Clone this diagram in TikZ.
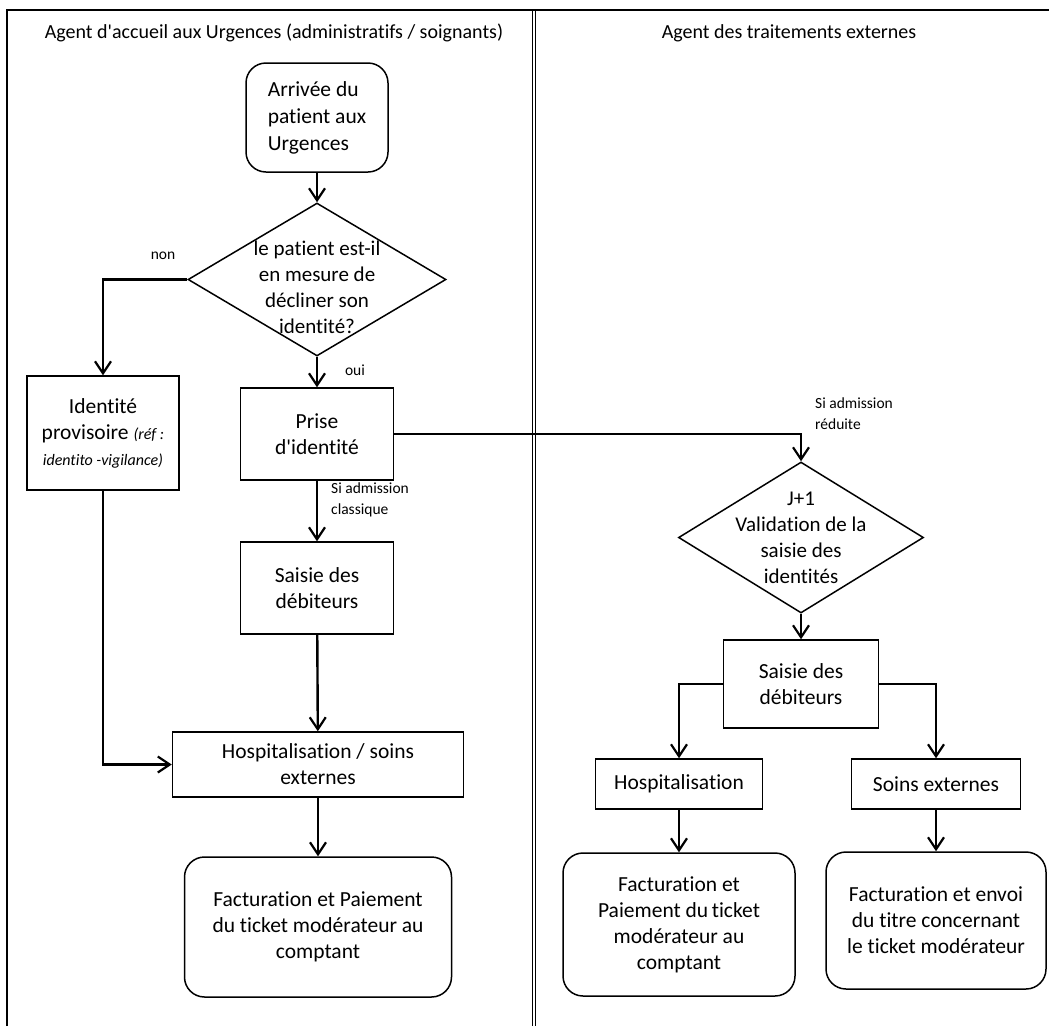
\documentclass[tikz,border=0pt]{standalone}
\usepackage{fontspec}
\setmainfont{Carlito}[Ligatures={NoCommon}]
\usepackage{tikz}
\usetikzlibrary{positioning,shapes.geometric,arrows.meta}

\begin{document}
\begin{tikzpicture}[x=1pt,y=-1pt,
    box/.style={draw,line width=1.5pt,inner sep=0pt,align=center,font=\fontsize{21.5}{26}\selectfont},
    endbox/.style={box,rounded corners=20pt},
    decision/.style={diamond,draw,line width=1.5pt,inner sep=0pt},
    dtext/.style={align=center,inner sep=0pt,font=\fontsize{21}{26}\selectfont},
    lane/.style={font=\fontsize{20}{24}\selectfont},
    flow/.style={line width=2.4pt,-{Straight Barb[length=12pt,width=16pt,line width=2.2pt]}},
    lbl/.style={font=\fontsize{15.5}{21}\selectfont,align=left,inner sep=0pt}]
  \useasboundingbox (0,0) rectangle (1049,1026);
  \draw[line width=1.8pt] (7,1026) -- (7,10) -- (1049,10);
  \draw[line width=0.9pt] (532,10) -- (532,1026) (535.5,10) -- (535.5,1026);

  \node[lane](lane1) at (274,33) {Agent d\textquotesingle accueil aux Urgences (administratifs / soignants)};
  \node[lane](lane2) at (789,33) {Agent des traitements externes};

  \node[endbox,minimum width=142pt,minimum height=109pt,align=left,font=\fontsize{21.5}{27}\selectfont](arrivee) at (317,117.5) {Arrivée du\\patient aux\\Urgences};
  \node[decision,minimum width=258pt,minimum height=153pt](q1) at (317,279.5) {};
  \node[dtext](q1txt) at ([yshift=-8pt]q1.center) {le patient est-il\\en mesure de\\décliner son\\identité?};
  \node[box,minimum width=152pt,minimum height=114pt](ident) at (103,433) {Identité\\provisoire {\fontsize{16}{20}\selectfont\itshape (réf :}\\{\fontsize{16}{20}\selectfont\itshape identito -vigilance)}};
  \node[box,minimum width=153pt,minimum height=92pt](prise) at (317,434) {Prise\\d\textquotesingle identité};
  \node[box,minimum width=153pt,minimum height=92pt](saisieL) at (317,588) {Saisie des\\débiteurs};
  \node[box,minimum width=291pt,minimum height=65pt](hospL) at (318,764.5) {Hospitalisation / soins\\externes};
  \node[endbox,minimum width=267pt,minimum height=140pt](factL) at (318,927) {Facturation et Paiement\\du ticket modérateur au\\comptant};

  \node[decision,minimum width=245pt,minimum height=151pt](q2) at (801,537.5) {};
  \node[dtext](q2txt) at (q2) {J+1\\Validation de la\\saisie des\\identités};
  \node[box,minimum width=155pt,minimum height=88pt](saisieR) at (801,684) {Saisie des\\débiteurs};
  \node[box,minimum width=167pt,minimum height=50pt](hospR) at (679,784) {Hospitalisation};
  \node[box,minimum width=169pt,minimum height=50pt](soins) at (936,784) {Soins externes};
  \node[endbox,minimum width=232pt,minimum height=143pt](factR1) at (679,924.5) {Facturation et\\Paiement du\,ticket\\modérateur au\\comptant};
  \node[endbox,minimum width=220pt,minimum height=137pt](factR2) at (936,920.5) {Facturation et envoi\\du titre concernant\\le ticket modérateur};

  \node[lbl](non) at (163,256) {non};
  \node[lbl](oui) at (355,370) {oui};
  \node[lbl,anchor=west](classique) at (331,500) {Si admission\\classique};
  \node[lbl,anchor=west](reduite) at (815,414) {Si admission\\réduite};

  \draw[flow] (arrivee) -- (q1);
  \draw[flow] (q1.west) -| (ident.north);
  \draw[flow] (q1) -- (prise);
  \draw[flow] (prise.east) -| (q2.north);
  \draw[flow] (prise) -- (saisieL);
  \draw[flow] (saisieL) -- (hospL);
  \draw[flow] (ident.south) |- (hospL.west);
  \draw[flow] (hospL) -- (factL);
  \draw[flow] (q2) -- (saisieR);
  \draw[flow] (saisieR.west) -| (hospR.north);
  \draw[flow] (saisieR.east) -| (soins.north);
  \draw[flow] (hospR) -- (factR1);
  \draw[flow] (soins) -- (factR2);
\end{tikzpicture}
\end{document}
